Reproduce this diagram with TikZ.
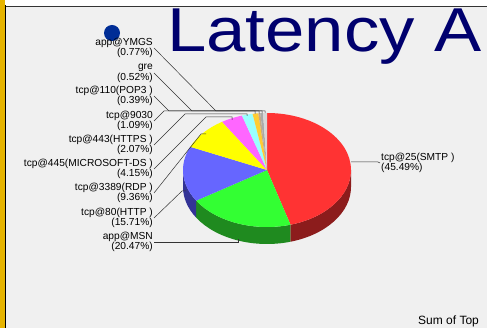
\documentclass[tikz,border=0pt]{standalone}
\usepackage{fontspec}
\setmainfont{Liberation Sans}
\usepackage{tikz}
\usetikzlibrary{positioning}
\definecolor{panelGray}{RGB}{240,240,240}
\definecolor{barGold}{RGB}{230,180,0}
\definecolor{titleNavy}{RGB}{0,0,110}
\definecolor{dotBlue}{RGB}{0,45,150}
\definecolor{pieRed}{RGB}{255,51,51}
\definecolor{pieGreen}{RGB}{51,255,51}
\definecolor{pieBlue}{RGB}{102,102,255}
\definecolor{pieYellow}{RGB}{255,255,0}
\definecolor{pieMagenta}{RGB}{255,102,255}
\definecolor{pieCyan}{RGB}{153,255,255}
\definecolor{pieOrange}{RGB}{255,204,51}
\definecolor{pieTan}{RGB}{200,170,130}
\definecolor{pieGray}{RGB}{170,170,170}
\definecolor{pieLight}{RGB}{215,215,215}
\definecolor{sideRed}{RGB}{140,28,28}
\definecolor{sideGreen}{RGB}{31,138,31}
\definecolor{sideBlue}{RGB}{51,51,150}
\tikzset{pie_label/.style={anchor=east, align=right, inner sep=1pt, font=\fontsize{10.2}{10.7}\selectfont}}
\tikzset{pie_leader/.style={draw=black!80, line width=0.5pt}}
\tikzset{pie_ellipse/.style={x radius=84, y radius=57}}

\begin{document}
\begin{tikzpicture}[x=1pt, y=-1pt]
    \useasboundingbox (0,0) rectangle (487,328);
    \fill[white] (0,0) rectangle (487,328);
    \fill[panelGray] (6,6) rectangle (487,328);
    \draw[black!80, line width=1pt] (6,6.5) -- (487,6.5);
    \fill[barGold] (0,0) rectangle (5,328);
    \draw[black, line width=1.2pt] (5.8,5) -- (5.8,328);

    \fill[dotBlue] (112,33) circle (8);
    \node[anchor=base west, inner sep=0, text=titleNavy, font=\fontsize{62}{62}\selectfont] (title) at (167,52) {\scalebox{1.14}[1]{Latency A}};
    \node[anchor=base west, inner sep=0, font=\fontsize{12}{12}\selectfont] (sum) at (418,325) {Sum of Top};

    % pie, y up inside
    \begin{scope}[shift={(267,170)}, yscale=-1]
        \fill[sideRed] (0:84 and 57) arc[start angle=0, end angle=-73.76, pie_ellipse] -- ++(0,-17) arc[start angle=-73.76, end angle=0, pie_ellipse] -- cycle;
        \fill[sideGreen] (-73.76:84 and 57) arc[start angle=-73.76, end angle=-147.46, pie_ellipse] -- ++(0,-17) arc[start angle=-147.46, end angle=-73.76, pie_ellipse] -- cycle;
        \fill[sideBlue] (-147.46:84 and 57) arc[start angle=-147.46, end angle=-180, pie_ellipse] -- ++(0,-17) arc[start angle=-180, end angle=-147.46, pie_ellipse] -- cycle;
        \foreach \a/\b/\c in {90/-73.76/pieRed, -73.76/-147.46/pieGreen, -147.46/-204.01/pieBlue,
            -204.01/-237.71/pieYellow, -237.71/-252.65/pieMagenta, -252.65/-260.1/pieCyan,
            -260.1/-264.02/pieOrange, -264.02/-265.43/pieTan, -265.43/-267.3/pieGray, -267.3/-270/pieLight}
            \fill[\c] (0,0) -- (\a:84 and 57) arc[start angle=\a, end angle=\b, pie_ellipse] -- cycle;
    \end{scope}

    \node[pie_label] (ymgs) at (154,48) {app@YMGS\\(0.77\%)};
    \node[pie_label] (gre) at (154,73) {gre\\(0.52\%)};
    \node[pie_label] (pop) at (154,96) {tcp@110(POP3 )\\(0.39\%)};
    \node[pie_label] (p9030) at (154,121) {tcp@9030\\(1.09\%)};
    \node[pie_label] (https) at (154,145) {tcp@443(HTTPS )\\(2.07\%)};
    \node[pie_label] (msds) at (154,169) {tcp@445(MICROSOFT-DS )\\(4.15\%)};
    \node[pie_label] (rdp) at (154,193) {tcp@3389(RDP )\\(9.36\%)};
    \node[pie_label] (http) at (154,218) {tcp@80(HTTP )\\(15.71\%)};
    \node[pie_label] (msn) at (154,242) {app@MSN\\(20.47\%)};
    \node[pie_label, anchor=west, align=left] (smtp) at (380,163) {tcp@25(SMTP )\\(45.49\%)};

    \coordinate (t_ymgs) at (265,113);
    \coordinate (t_gre) at (262,113);
    \coordinate (t_pop) at (259,113.5);
    \coordinate (t_9030) at (255,114);
    \coordinate (t_https) at (247,116);
    \coordinate (t_msds) at (232,120);
    \coordinate (t_rdp) at (206,134);
    \coordinate (t_http) at (186,191);
    \coordinate (t_msn) at (238,239);
    \coordinate (t_smtp) at (351,162);

    \draw[pie_leader] (ymgs.east) -- (216,111) -- (265,111) -- (t_ymgs);
    \draw[pie_leader] (gre.east) -- (192,111) -- (262,111) -- (t_gre);
    \draw[pie_leader] (pop.east) -- (169,111) -- (259,111) -- (t_pop);
    \draw[pie_leader] (p9030.east) -- (164,111) -- (255,111) -- (t_9030);
    \draw[pie_leader] (https.east) -- (185,114) -- (247,114) -- (t_https);
    \draw[pie_leader] (msds.east) -- (206,117) -- (232,117) -- (t_msds);
    \draw[pie_leader] (rdp.east) -- (201,134) -- (t_rdp);
    \draw[pie_leader] (http.east) -- (182,191) -- (t_http);
    \draw[pie_leader] (msn.east) -- (238,242) -- (t_msn);
    \draw[pie_leader] (t_smtp) -- (378,162) -- (smtp.west);
\end{tikzpicture}
\end{document}
